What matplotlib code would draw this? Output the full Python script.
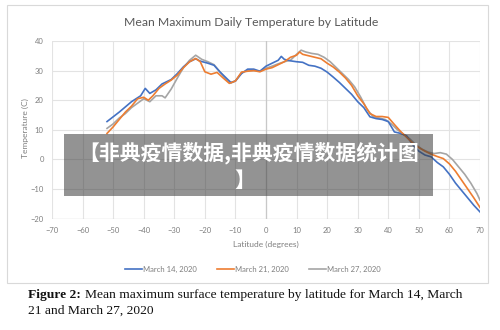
import matplotlib
matplotlib.use("Agg")
import matplotlib.pyplot as plt
from matplotlib.patches import Rectangle
from matplotlib.lines import Line2D

# ---- data ----
lat_blue = [-52, -48, -44, -41, -39.5, -38, -36, -34, -31, -29, -27, -25, -23, -21.5, -19, -17, -15, -13, -11.5,
            -10, -8, -6, -4, -2, 0, 2, 4, 5, 6, 8, 10, 12, 14, 16, 18, 20, 22, 24, 26, 28, 30, 32, 34, 36, 38,
            40, 42, 44, 46, 48, 50, 52, 54, 56, 58, 60, 62, 64, 66, 68, 70]
temp_blue = [12.8, 16, 19.5, 21.5, 24, 22.3, 23.5, 25.5, 27, 29, 31.3, 33, 34, 33.2, 32.5, 31.8, 29.5, 27.5, 26,
             26.5, 29, 30.5, 30.5, 29.8, 31.5, 32.5, 33.5, 34.8, 33.8, 33.3, 33, 32.8, 31.8, 31.5, 30.8, 29.5,
             27.8, 26, 24, 22, 19.5, 17.5, 14.4, 13.8, 13.5, 12.8, 9.3, 8.8, 8, 5, 2.8, 1.5, 0.9, -1, -2.5, -5,
             -8, -10.5, -13, -15.5, -17.7]

lat_orange = [-52, -50, -48, -46, -44, -42, -40, -38.5, -37, -35, -33, -31, -29, -27, -25, -23, -21.5, -20, -18,
              -16, -14, -12, -10, -8, -6, -4, -2, 0, 2, 4, 6, 8, 10, 11, 12, 14, 16, 18, 20, 22, 24, 26, 28, 30,
              32, 34, 36, 38, 40, 42, 44, 46, 48, 50, 52, 54, 56, 58, 60, 62, 64, 66, 68, 70]
temp_orange = [8.8, 11, 13.5, 16, 18, 20.5, 21, 20, 21.5, 24, 25.5, 26.8, 28.5, 31, 33, 34.1, 33, 29.6, 28.8,
               29.4, 27.5, 25.7, 26.5, 29.5, 29.8, 30, 29.6, 30.5, 31, 32, 33, 34.5, 35.2, 36.3, 35.5, 35, 34.5,
               34, 32.5, 31.2, 29.5, 27.5, 25, 21.5, 18.8, 15.5, 14.5, 14.5, 14.2, 11.8, 9.5, 7.5, 5.5, 4, 2.8,
               1.8, 1, 0.3, -1.5, -4, -7, -10, -13, -16.2]

lat_gray = [-52, -50, -48, -46, -44, -42, -40, -38, -36, -34, -33, -31, -29, -27, -25, -23, -21, -19, -17, -15,
            -13, -11.5, -10, -8, -6, -4, -2, 0, 2, 4, 6, 8, 10, 11.5, 13, 15, 17, 19, 21, 23, 25, 27, 29, 31,
            33, 35, 37, 39, 41, 43, 45, 47, 49, 51, 53, 55, 57, 59, 61, 63, 65, 67, 69, 70]
temp_gray = [10.5, 12, 14, 15.5, 17.5, 19, 20.5, 19.5, 21.5, 21.5, 20.8, 23.8, 27.5, 31, 33.5, 35.2, 33.8, 33,
             32, 29.5, 27, 25.8, 26.5, 29.3, 30, 30, 29.8, 30.8, 31.5, 32.3, 33, 33.5, 35.5, 36.9, 36.3, 35.8,
             35.5, 34.5, 33, 31, 29, 27, 24.5, 21, 17, 14.5, 14, 13.5, 12, 10, 8.5, 7, 5, 3.5, 2.5, 2, 2.3,
             1.8, 0, -2.5, -5, -8, -11.5, -13.7]

series_labels = ["March 14, 2020", "March 21, 2020", "March 27, 2020"]
x_ticks = list(range(-70, 71, 10))
y_ticks = list(range(-20, 41, 10))

title = "Mean Maximum Daily Temperature by Latitude"
x_label = "Latitude (degrees)"
y_label = "Temperature (C)"
banner_line1 = "【非典疫情数据,非典疫情数据统计图"
banner_line2 = "】"

W, H = 500, 330
fig = plt.figure(figsize=(W / 100, H / 100), dpi=100)
fig.patch.set_facecolor("white")

def fx(px):
    return px / W

def fy(py):
    return 1 - py / H

# chart frame
fig.patches.append(Rectangle((fx(7), fy(283)), fx(488) - fx(7), fy(5) - fy(283),
                             transform=fig.transFigure, fill=False, edgecolor="#d9d9d9", lw=0.8))

ax = fig.add_axes([fx(52), fy(218.7), fx(480) - fx(52), fy(41) - fy(218.7)])
ax.set_xlim(-70, 70)
ax.set_ylim(-20, 40)
ax.set_xticks(x_ticks)
ax.set_yticks(y_ticks)
ax.grid(True, color="#e3e3e3", lw=0.8)
ax.set_axisbelow(True)
for s in ax.spines.values():
    s.set_visible(False)
ax.axvline(0, color="#c8c8c8", lw=0.9, zorder=1)
ax.axhline(-20, color="#d0d0d0", lw=0.9, zorder=1)
ax.tick_params(length=0, labelsize=5.5, colors="#7f7f7f", pad=6)
lab_font = "Lato"
for t in ax.get_xticklabels() + ax.get_yticklabels():
    t.set_fontfamily(lab_font)

colors = ["#4472C4", "#ED7D31", "#A5A5A5"]
ax.plot(lat_blue, temp_blue, color=colors[0], lw=1.2, zorder=3)
ax.plot(lat_orange, temp_orange, color=colors[1], lw=1.2, zorder=3)
ax.plot(lat_gray, temp_gray, color=colors[2], lw=1.2, zorder=2)

fig.text(fx(251), fy(22), title, ha="center", va="center", fontsize=8.8, color="#595959", family=lab_font)
fig.text(fx(266), fy(244), x_label, ha="center", va="center", fontsize=6, color="#7f7f7f", family=lab_font)
fig.text(fx(25), fy(128), y_label, ha="center", va="center", rotation=90, fontsize=6, color="#7f7f7f",
         family=lab_font)

handles = [Line2D([], [], color=c, lw=1.2) for c in colors]
fig.legend(handles, series_labels, loc="center", bbox_to_anchor=(fx(253), fy(269)), ncol=3, frameon=False,
           prop={"family": lab_font, "size": 5.5}, labelcolor="#7f7f7f", handlelength=2.2,
           handletextpad=0.2, columnspacing=2.6)

# caption
cap_size = 9.7
fig.text(fx(28), fy(295), "Figure 2:", ha="left", va="center", fontsize=cap_size, family="Liberation Serif",
         fontweight="bold", color="#111111")
fig.text(fx(85), fy(295), "Mean maximum surface temperature by latitude for March 14, March",
         ha="left", va="center", fontsize=cap_size, family="Liberation Serif", color="#111111")
fig.text(fx(28), fy(311), "21 and March 27, 2020", ha="left", va="center", fontsize=cap_size,
         family="Liberation Serif", color="#111111")

# banner overlay
fig.patches.append(Rectangle((fx(64), fy(196)), fx(433) - fx(64), fy(134) - fy(196),
                             transform=fig.transFigure, facecolor="#3a3a3a", alpha=0.55,
                             edgecolor="none", zorder=10))
cjk = ["Noto Sans CJK SC", "DejaVu Sans"]
fig.text(fx(249), fy(153), banner_line1, ha="center", va="center", fontsize=15, color="white",
         fontweight="bold", family=cjk, zorder=11)
fig.text(fx(245), fy(180), banner_line2, ha="center", va="center", fontsize=15, color="white",
         fontweight="bold", family=cjk, zorder=11)

fig.savefig("out.png", dpi=100)
